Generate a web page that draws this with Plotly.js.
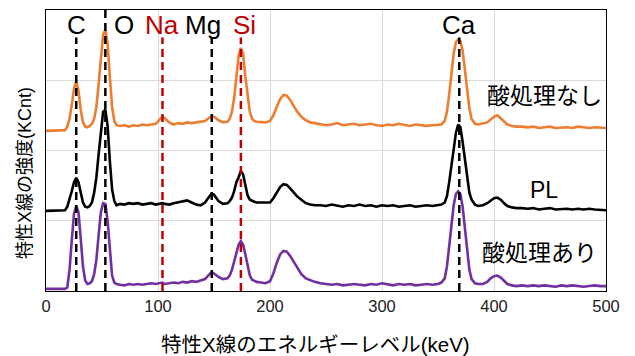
<!DOCTYPE html>
<html>
<head>
<meta charset="utf-8">
<script src="https://cdn.plot.ly/plotly-3.0.1.min.js"></script>
<style>html,body{margin:0;padding:0;background:#fff;}#chart{width:635px;height:356px;}</style>
</head>
<body>
<div id="chart"></div>
<script>
// Energy (keV)
const energy = [
  0,5,10,15,17,19,
  21,23,25,27,29,31,33,35,37,39,41,43,45,47,49,51,53,55,57,59,61,63,
  66,70,74,78,82,86,90,94,98,102,104,106,110,114,118,122,126,130,134,138,142,146,148,150,154,158,162,
  164,166,168,170,172,174,176,178,180,182,184,186,188,
  192,196,200,203,206,209,212,215,218,221,224,228,232,236,240,
  245,250,255,260,265,270,275,280,285,290,295,300,305,310,315,320,325,330,335,340,345,350,
  353,356,358,360,362,364,366,368,370,372,374,376,378,380,383,386,
  390,394,397,400,403,406,409,412,416,420,425,
  430,435,440,445,450,455,460,465,470,475,480,485,490,495,500
];
// 酸処理なし (orange)
const noTreat = [
  2.28,2.28,2.28,2.28,2.29,2.34,
  2.45,2.65,2.88,2.99,2.85,2.58,2.40,2.34,2.33,2.35,2.38,2.45,2.62,2.95,3.35,3.65,3.72,3.52,3.05,2.62,2.42,2.36,
  2.35,2.36,2.34,2.36,2.35,2.37,2.36,2.37,2.38,2.45,2.48,2.46,2.40,2.37,2.39,2.38,2.40,2.39,2.40,2.40,2.42,2.47,2.49,2.48,2.43,2.40,2.41,
  2.45,2.55,2.75,3.05,3.35,3.46,3.38,3.05,2.75,2.55,2.45,2.42,2.41,
  2.40,2.40,2.42,2.50,2.62,2.73,2.79,2.78,2.72,2.64,2.56,2.48,2.43,2.40,2.39,
  2.38,2.36,2.37,2.39,2.36,2.37,2.38,2.36,2.37,2.38,2.36,2.35,2.37,2.36,2.38,2.36,2.35,2.37,2.36,2.35,2.36,2.37,
  2.37,2.42,2.55,2.80,3.10,3.38,3.54,3.58,3.56,3.42,3.15,2.85,2.60,2.45,2.38,2.37,
  2.38,2.40,2.44,2.48,2.50,2.46,2.41,2.37,2.35,2.34,2.34,
  2.33,2.34,2.32,2.33,2.34,2.32,2.33,2.33,2.32,2.34,2.33,2.32,2.33,2.32,2.32
];
// PL (black)
const plSeries = [
  1.14,1.14,1.14,1.14,1.15,1.20,
  1.30,1.42,1.55,1.61,1.55,1.40,1.26,1.20,1.19,1.21,1.26,1.40,1.62,1.95,2.30,2.55,2.58,2.35,1.85,1.45,1.28,1.22,
  1.24,1.23,1.25,1.24,1.25,1.23,1.24,1.25,1.23,1.24,1.25,1.24,1.23,1.25,1.26,1.27,1.29,1.26,1.23,1.22,1.26,1.35,1.39,1.37,1.28,1.24,1.25,
  1.28,1.33,1.42,1.55,1.62,1.71,1.66,1.50,1.36,1.30,1.28,1.27,1.26,
  1.26,1.25,1.26,1.32,1.40,1.48,1.52,1.51,1.46,1.40,1.35,1.30,1.25,1.23,1.22,
  1.22,1.21,1.23,1.22,1.20,1.22,1.21,1.23,1.21,1.22,1.20,1.22,1.21,1.22,1.20,1.21,1.22,1.20,1.21,1.22,1.21,1.22,
  1.23,1.26,1.35,1.55,1.80,2.05,2.25,2.37,2.33,2.12,1.85,1.58,1.40,1.30,1.23,1.21,
  1.22,1.25,1.29,1.32,1.33,1.30,1.25,1.21,1.19,1.18,1.18,
  1.17,1.18,1.16,1.17,1.18,1.16,1.17,1.17,1.16,1.17,1.16,1.17,1.16,1.16,1.15
];
// 酸処理あり (purple)
const withTreat = [
  0.03,0.03,0.03,0.03,0.03,0.05,
  0.30,0.72,1.10,1.21,1.12,0.75,0.35,0.15,0.10,0.11,0.14,0.24,0.45,0.80,1.12,1.25,1.24,1.00,0.55,0.22,0.12,0.10,
  0.09,0.08,0.10,0.09,0.10,0.09,0.10,0.11,0.10,0.11,0.12,0.10,0.11,0.12,0.11,0.13,0.12,0.14,0.13,0.15,0.17,0.24,0.27,0.25,0.20,0.17,0.18,
  0.22,0.30,0.42,0.55,0.66,0.71,0.66,0.52,0.35,0.22,0.16,0.14,0.13,
  0.12,0.11,0.14,0.25,0.40,0.52,0.57,0.56,0.50,0.42,0.34,0.24,0.18,0.15,0.13,
  0.11,0.10,0.09,0.10,0.08,0.09,0.10,0.09,0.08,0.10,0.09,0.11,0.09,0.08,0.10,0.09,0.10,0.08,0.09,0.10,0.09,0.10,
  0.12,0.18,0.35,0.62,0.95,1.22,1.38,1.42,1.38,1.20,0.90,0.55,0.30,0.17,0.11,0.10,
  0.10,0.13,0.18,0.21,0.22,0.19,0.14,0.10,0.08,0.07,0.08,
  0.07,0.08,0.07,0.08,0.07,0.06,0.08,0.07,0.08,0.07,0.06,0.07,0.08,0.07,0.07
];
// Element lines
const elements = ['C','O','Na','Mg','Si','Ca'];
const elementEnergy = [27, 53, 104, 148, 174, 369];
const elementLabelX = [27, 70, 104, 140, 177, 369];
const elementColor = ['#000000','#000000','#C00000','#000000','#C00000','#000000'];
const elementLineTop = [3.61, 4, 3.61, 3.61, 3.61, 3.61];
// Series labels
const seriesNames = ['酸処理なし','PL','酸処理あり'];
const seriesLabelX = [445, 445, 441];
const seriesLabelY = [2.77, 1.44, 0.54];
const xTickVals = [0,100,200,300,400,500];
const xTickText = ['0','100','200','300','400','500'];
const xTitle = '特性X線のエネルギーレベル(keV)';
const yTitle = '特性X線の強度(KCnt)';

const FONT = 'Arial, "Liberation Sans", "Noto Sans CJK JP", sans-serif';

const traces = [
  {x: energy, y: noTreat, mode: 'lines', line: {color: '#ED7D31', width: 2.6}, name: seriesNames[0]},
  {x: energy, y: plSeries, mode: 'lines', line: {color: '#000000', width: 2.6}, name: seriesNames[1]},
  {x: energy, y: withTreat, mode: 'lines', line: {color: '#7030A0', width: 2.6}, name: seriesNames[2]}
];

const shapes = elements.map((el, i) => ({
  type: 'line', xref: 'x', yref: 'y',
  x0: elementEnergy[i], x1: elementEnergy[i], y0: 0, y1: elementLineTop[i],
  line: {color: elementColor[i], width: 2.5, dash: '8px,5px'},
  layer: 'above'
}));

const annotations = elements.map((el, i) => ({
  text: el, xref: 'x', yref: 'paper', x: elementLabelX[i], y: 0.947,
  xanchor: 'center', yanchor: 'middle', showarrow: false,
  font: {family: FONT, size: 26, color: elementColor[i]}
})).concat(seriesNames.map((s, i) => ({
  text: s, xref: 'x', yref: 'y', x: seriesLabelX[i], y: seriesLabelY[i],
  xanchor: 'center', yanchor: 'middle', showarrow: false,
  font: {family: FONT, size: 23, color: '#000000'}
}))).concat([
  {text: xTitle, xref: 'paper', yref: 'paper', x: 0.482, y: -0.192,
   xanchor: 'center', yanchor: 'middle', showarrow: false,
   font: {family: FONT, size: 20.5, color: '#000000'}},
  {text: yTitle, xref: 'paper', yref: 'paper', x: -0.0375, y: 0.42,
   xanchor: 'center', yanchor: 'middle', showarrow: false, textangle: -90,
   font: {family: FONT, size: 18, color: '#000000'}}
]);

const layout = {
  width: 635, height: 356,
  margin: {l: 46, r: 29, t: 10, b: 65},
  paper_bgcolor: '#ffffff', plot_bgcolor: '#ffffff',
  showlegend: false,
  font: {family: FONT, color: '#000000'},
  xaxis: {
    range: [0, 500], tickvals: xTickVals, ticktext: xTickText,
    showgrid: true, gridcolor: '#d9d9d9', gridwidth: 1,
    zeroline: false, showline: true, mirror: true, linecolor: '#000000', linewidth: 1.3,
    ticks: '', tickfont: {family: FONT, size: 16.5, color: '#222222'}
  },
  yaxis: {
    range: [0, 4], dtick: 1, showticklabels: false,
    showgrid: true, gridcolor: '#d9d9d9', gridwidth: 1,
    zeroline: false, showline: true, mirror: true, linecolor: '#000000', linewidth: 1.3,
    ticks: ''
  },
  shapes: shapes,
  annotations: annotations
};

Plotly.newPlot('chart', traces, layout, {staticPlot: true, displayModeBar: false});
</script>
</body>
</html>
